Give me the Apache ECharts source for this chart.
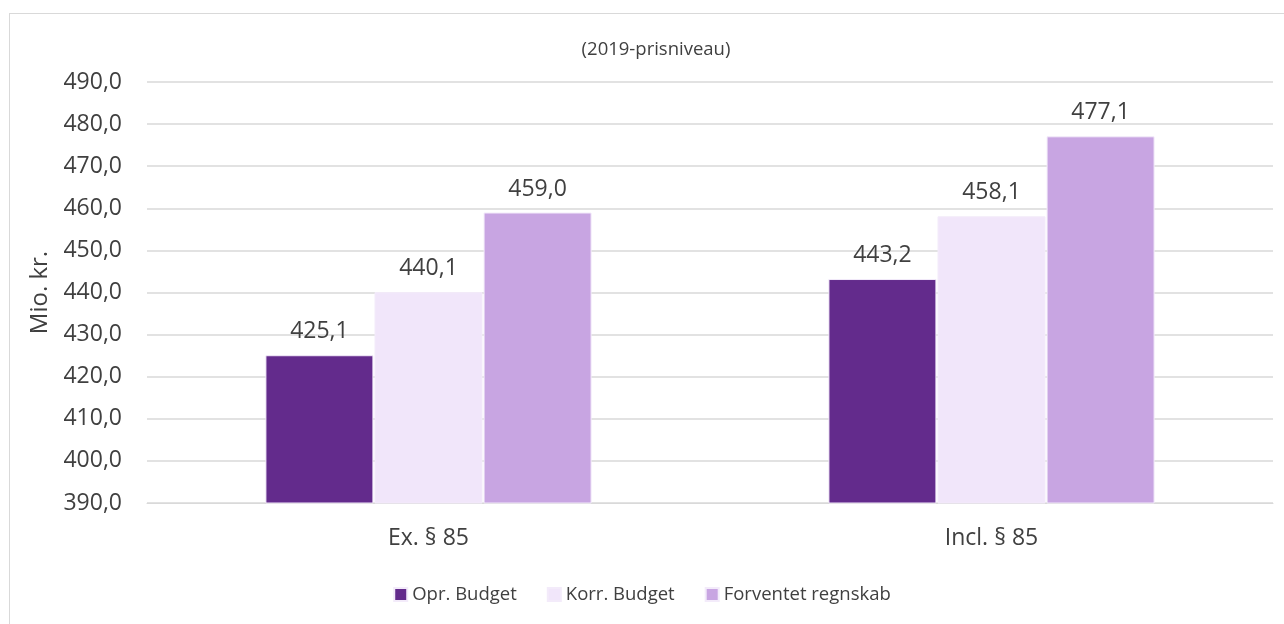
<!DOCTYPE html>
<html>
<head>
<meta charset="utf-8">
<script src="https://cdn.jsdelivr.net/npm/echarts@6/dist/echarts.min.js"></script>
<style>
  html, body { margin: 0; padding: 0; background: #fff; }
  #chart { width: 1284px; height: 624px; }
  .frame { position: absolute; left: 9px; top: 13px; width: 1290px; height: 620px; border: 1px solid #d9d9d9; box-sizing: border-box; pointer-events: none; }
</style>
</head>
<body>
<div id="chart"></div>
<div class="frame"></div>
<script>
const categories = ["Ex. § 85", "Incl. § 85"];
const seriesNames = ["Opr. Budget", "Korr. Budget", "Forventet regnskab"];
const oprBudget = [425.1, 443.2];
const korrBudget = [440.1, 458.1];
const forventet = [459.0, 477.1];
const colors = ["#632B8C", "#F1E6FA", "#C8A5E2"];

const fmt = v => v.toFixed(1).replace(".", ",");
const font = "'Open Sans', sans-serif";

const chart = echarts.init(document.getElementById("chart"));
const values = [oprBudget, korrBudget, forventet];

chart.setOption({
  animation: false,
  color: colors,
  title: {
    text: "(2019-prisniveau)",
    left: 651,
    top: 35,
    textAlign: "center",
    textStyle: { fontSize: 18.5, fontWeight: "normal", color: "#404040", fontFamily: font }
  },
  legend: {
    bottom: 15,
    left: "center",
    itemWidth: 13,
    itemHeight: 13,
    itemGap: 30,
    icon: "rect",
    textStyle: { fontSize: 18.5, color: "#404040", fontFamily: font },
    data: seriesNames
  },
  grid: { left: 147, right: 11, top: 82, bottom: 121 },
  xAxis: {
    type: "category",
    data: categories,
    axisLine: { lineStyle: { color: "#d9d9d9" } },
    axisTick: { show: false },
    axisLabel: { fontSize: 23, color: "#404040", fontFamily: font, margin: 24 }
  },
  yAxis: {
    type: "value",
    min: 390,
    max: 490,
    interval: 10,
    name: "Mio. kr.",
    nameLocation: "middle",
    nameGap: 88,
    nameTextStyle: { fontSize: 24, color: "#404040", fontFamily: font },
    axisLabel: { fontSize: 23, color: "#404040", fontFamily: font, margin: 25, formatter: v => fmt(v) },
    splitLine: { lineStyle: { color: "#d9d9d9", width: 1.5 } }
  },
  series: seriesNames.map((name, i) => ({
    name: name,
    type: "bar",
    data: values[i],
    barWidth: 108,
    barGap: "1%",
    itemStyle: { color: colors[i], borderColor: "#f3ebfa", borderWidth: 1 },
    label: {
      show: true,
      position: "top",
      distance: 12,
      fontSize: 23,
      color: "#404040",
      fontFamily: font,
      formatter: p => fmt(p.value)
    }
  }))
});
</script>
</body>
</html>
